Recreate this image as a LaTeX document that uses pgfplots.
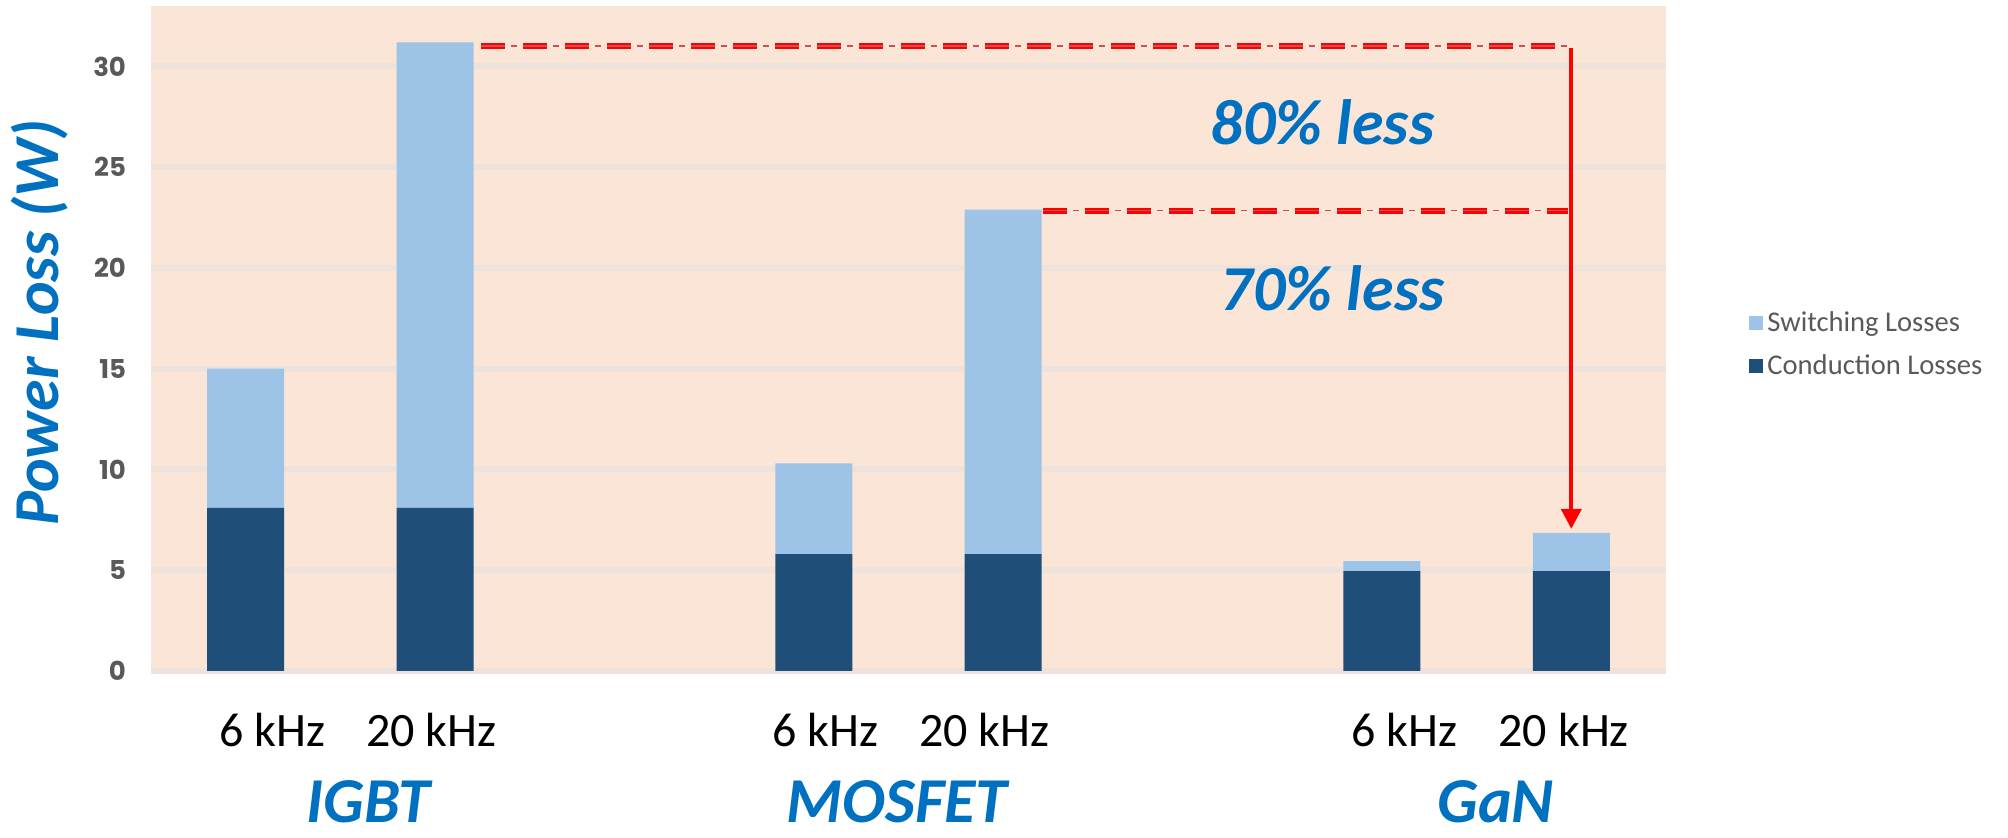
\documentclass[border=0pt]{standalone}
\usepackage{fontspec}
\setmainfont{Carlito}
\newfontfamily\tickfont{Poppins}
\usepackage{pgfplots}
\pgfplotsset{compat=1.18}
\usetikzlibrary{arrows.meta}
\definecolor{peach}{RGB}{251,229,214}
\definecolor{gridc}{RGB}{238,227,220}
\definecolor{swc}{RGB}{157,195,230}
\definecolor{cdc}{RGB}{31,78,121}
\definecolor{blueT}{RGB}{0,112,192}
\definecolor{tickgray}{RGB}{89,89,89}
\definecolor{dotred}{RGB}{200,80,80}
\begin{document}
\begin{tikzpicture}
\begin{axis}[
  scale only axis, width=757.5pt, height=332.5pt,
  xmin=-0.5, xmax=7.5, ymin=0, ymax=33,
  ybar stacked, bar width=38.5pt,
  axis background/.style={fill=peach},
  axis line style={draw=none},
  xtick=\empty,
  ytick={0,5,...,30},
  major tick length=0pt,
  ymajorgrids, grid style={gridc, line width=3pt},
  /pgf/number format/assume math mode=true,
  yticklabel style={font=\tickfont\bfseries\fontsize{13}{13}\selectfont, text=tickgray, anchor=east, xshift=-9pt},
  clip=false,
  reverse legend,
  legend cell align=left,
  legend style={at={(1,0.491)}, anchor=west, xshift=38.5pt, draw=none, fill=none,
    font=\fontsize{14.3}{14.3}\selectfont, text=tickgray, row sep=6pt},
  legend image code/.code={\fill[#1] (0pt,-3.5pt) rectangle (7pt,3.5pt);},
]
\addplot[fill=cdc, draw=none] coordinates {(0,8.1) (1,8.1) (3,5.8) (4,5.8) (6,4.95) (7,4.95)};
\addlegendentry{Conduction Losses}
\addplot[fill=swc, draw=none] coordinates {(0,6.9) (1,23.1) (3,4.5) (4,17.1) (6,0.5) (7,1.9)};
\addlegendentry{Switching Losses}

% dashed reference lines
\draw[dotred, line width=0.8pt, dash pattern=on 12pt off 3pt on 3pt off 3pt] (axis cs:1.24,31.0) -- (axis cs:7.0,31.0);
\draw[red, line width=3pt, dash pattern=on 12pt off 9pt] (axis cs:1.24,31.0) -- (axis cs:7.0,31.0);
\draw[dotred, line width=0.8pt, dash pattern=on 12pt off 3pt on 3pt off 3pt] (axis cs:4.21,22.85) -- (axis cs:6.98,22.85);
\draw[red, line width=3pt, dash pattern=on 12pt off 9pt] (axis cs:4.21,22.85) -- (axis cs:6.98,22.85);
\draw[red, line width=2pt, -{Triangle[width=10pt,length=10pt]}] (axis cs:7.0,30.9) -- (axis cs:7.0,7.05);

\node[font=\bfseries\itshape\fontsize{32}{32}\selectfont, text=blueT] at (axis cs:5.686,27.25) {80\% less};
\node[font=\bfseries\itshape\fontsize{32}{32}\selectfont, text=blueT] at (axis cs:5.74,19.0) {70\% less};

% category labels
\node[font=\fontsize{24}{24}\selectfont] at (axis cs:0.14,-2.93) {6 kHz};
\node[font=\fontsize{24}{24}\selectfont] at (axis cs:0.98,-2.93) {20 kHz};
\node[font=\fontsize{24}{24}\selectfont] at (axis cs:3.06,-2.93) {6 kHz};
\node[font=\fontsize{24}{24}\selectfont] at (axis cs:3.90,-2.93) {20 kHz};
\node[font=\fontsize{24}{24}\selectfont] at (axis cs:6.12,-2.93) {6 kHz};
\node[font=\fontsize{24}{24}\selectfont] at (axis cs:6.96,-2.93) {20 kHz};
\node[anchor=base, font=\bfseries\itshape\fontsize{32}{32}\selectfont, text=blueT] at (axis cs:0.647,-7.5) {IGBT};
\node[anchor=base, font=\bfseries\itshape\fontsize{32}{32}\selectfont, text=blueT] at (axis cs:3.44,-7.5) {MOSFET};
\node[anchor=base, font=\bfseries\itshape\fontsize{32}{32}\selectfont, text=blueT] at (axis cs:6.60,-7.5) {GaN};
\node[rotate=90, anchor=base, font=\bfseries\itshape\fontsize{32}{32}\selectfont, text=blueT] at (axis cs:-0.989,17.3) {Power Loss (W)};
\end{axis}
\pgfresetboundingbox
\path (-75.5pt,-83.5pt) rectangle (928.5pt,335.5pt);
\end{tikzpicture}
\end{document}
